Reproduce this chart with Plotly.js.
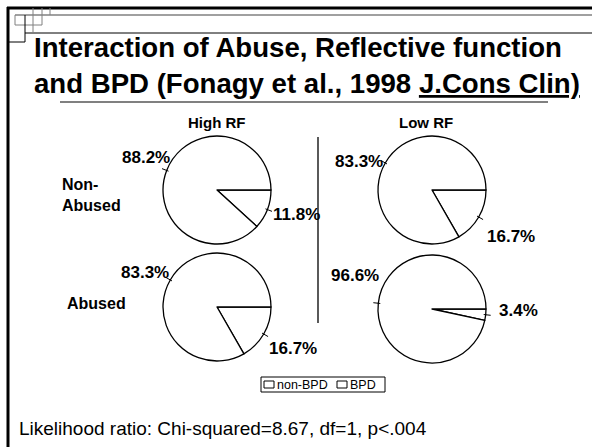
<!DOCTYPE html>
<html>
<head>
<meta charset="utf-8">
<script src="https://cdn.plot.ly/plotly-3.0.1.min.js"></script>
<style>html,body{margin:0;padding:0;background:#fff;}#chart{width:592px;height:447px;}</style>
</head>
<body>
<div id="chart"></div>
<script>
// ---- data ----
const categories = ['non-BPD', 'BPD'];
const columnLabels = ['High RF', 'Low RF'];
const rowLabels = ['Non-<br>Abused', 'Abused'];
// order: High RF/Non-Abused, Low RF/Non-Abused, High RF/Abused, Low RF/Abused
const nonBPD = [88.2, 83.3, 83.3, 96.6];
const BPD = [11.8, 16.7, 16.7, 3.4];
const footnote = 'Likelihood ratio: Chi-squared=8.67, df=1, p<.004';

// ---- layout helpers (pixel -> paper) ----
const W = 592, H = 447;
const X = px => px / W;
const Y = py => 1 - py / H;
const FONT = 'Arial, "Liberation Sans", sans-serif';

const pieCenters = [[217, 190], [432, 190], [217, 307], [432, 309]];
const R = 54;
// label placements [x, y, anchor] for non-BPD and BPD labels
const labelPos = [
  [[172, 157, 'right'], [271, 215, 'left']],
  [[385, 162, 'right'], [485, 236, 'left']],
  [[171, 272, 'right'], [267, 348, 'left']],
  [[381, 275, 'right'], [497, 310, 'left']]
];

const traces = [];
const shapes = [];
const annotations = [];

pieCenters.forEach((c, i) => {
  const [cx, cy] = c;
  // BPD slice first, starting at 3 o'clock and running clockwise
  traces.push({
    type: 'pie',
    labels: [categories[1], categories[0]],
    values: [BPD[i], nonBPD[i]],
    sort: false,
    direction: 'clockwise',
    rotation: 90,
    textinfo: 'none',
    hoverinfo: 'skip',
    showlegend: false,
    marker: {colors: ['#ffffff', '#ffffff'], line: {color: '#000000', width: 1.3}},
    domain: {x: [X(cx - R), X(cx + R)], y: [Y(cy + R), Y(cy - R)]}
  });
  // mid-angle ticks (theta measured clockwise from 3 o'clock)
  const tot = nonBPD[i] + BPD[i];
  const aB = 360 * BPD[i] / tot;
  const aN = 360 * nonBPD[i] / tot;
  const mids = [aB + aN / 2, aB / 2];
  const vals = [nonBPD[i], BPD[i]];
  mids.forEach((m, k) => {
    const t = m * Math.PI / 180;
    const r0 = R - 2, r1 = R + 5;
    shapes.push({type: 'line', xref: 'paper', yref: 'paper',
      x0: X(cx + r0 * Math.cos(t)), y0: Y(cy + r0 * Math.sin(t)),
      x1: X(cx + r1 * Math.cos(t)), y1: Y(cy + r1 * Math.sin(t)),
      line: {color: '#000', width: 1}});
    const lp = labelPos[i][k];
    annotations.push({xref: 'paper', yref: 'paper', x: X(lp[0]), y: Y(lp[1]),
      xanchor: lp[2], yanchor: 'middle', showarrow: false,
      text: '<b>' + vals[k].toFixed(1) + '%</b>',
      font: {family: FONT, size: 17, color: '#000'}});
  });
});

// column headers
annotations.push({xref: 'paper', yref: 'paper', x: X(217), y: Y(123), xanchor: 'center', yanchor: 'middle',
  showarrow: false, text: '<b>' + columnLabels[0] + '</b>', font: {family: FONT, size: 15, color: '#000'}});
annotations.push({xref: 'paper', yref: 'paper', x: X(426), y: Y(123), xanchor: 'center', yanchor: 'middle',
  showarrow: false, text: '<b>' + columnLabels[1] + '</b>', font: {family: FONT, size: 15, color: '#000'}});
// row labels
annotations.push({xref: 'paper', yref: 'paper', x: X(60), y: Y(195), xanchor: 'left', yanchor: 'middle', align: 'left',
  showarrow: false, text: '<b>' + rowLabels[0] + '</b>', font: {family: FONT, size: 16, color: '#000'}});
annotations.push({xref: 'paper', yref: 'paper', x: X(65), y: Y(303), xanchor: 'left', yanchor: 'middle', align: 'left',
  showarrow: false, text: '<b>' + rowLabels[1] + '</b>', font: {family: FONT, size: 16, color: '#000'}});
// title
annotations.push({xref: 'paper', yref: 'paper', x: X(32), y: Y(48), xanchor: 'left', yanchor: 'middle',
  showarrow: false, text: '<b>Interaction of Abuse, Reflective function</b>', font: {family: FONT, size: 27.6, color: '#000'}});
annotations.push({xref: 'paper', yref: 'paper', x: X(32), y: Y(83), xanchor: 'left', yanchor: 'middle',
  showarrow: false, text: '<b>and BPD (Fonagy et al., 1998 <span style="text-decoration:underline">J.Cons Clin)</span></b>',
  font: {family: FONT, size: 27.6, color: '#000'}});
// footnote
annotations.push({xref: 'paper', yref: 'paper', x: X(17), y: Y(428), xanchor: 'left', yanchor: 'middle',
  showarrow: false, text: footnote, font: {family: FONT, size: 19, color: '#000'}});

// frame & decoration
const L = (x0, y0, x1, y1, color, width) => shapes.push({type: 'line', xref: 'paper', yref: 'paper',
  x0: X(x0), y0: Y(y0), x1: X(x1), y1: Y(y1), line: {color: color, width: width}});
const RECT = (x0, y0, x1, y1, line, fill) => shapes.push({type: 'rect', xref: 'paper', yref: 'paper',
  x0: X(x0), y0: Y(y0), x1: X(x1), y1: Y(y1), line: line, fillcolor: fill});
L(7, 8, 592, 8, '#000', 3);
L(8, 7, 8, 447, '#000', 3);
L(15, 15, 592, 15, '#808080', 1.5);
L(25, 33, 592, 33, '#000', 1);
L(15, 15, 15, 25, '#808080', 1);
L(15, 25, 33, 25, '#808080', 1);
L(25, 15, 25, 42, '#000', 1);
L(8, 42, 25, 42, '#000', 1);
L(33, 8, 33, 33, '#808080', 1);
L(42, 8, 42, 25, '#808080', 1);
L(33, 25, 42, 25, '#808080', 1);
L(50, 8, 50, 15, '#808080', 1);
// title underline (grey rule)
L(60, 102, 548, 102, '#808080', 2);
// divider between columns
L(318, 137, 318, 323, '#000', 1.3);

// legend box (drawn manually to match the compact original)
RECT(261, 377, 385, 392, {color: '#000', width: 1}, '#fff');
const legendItems = [[264, 276], [337, 349]];
categories.forEach((cat, k) => {
  const [sx, tx] = legendItems[k];
  RECT(sx, 381, sx + 10, 388, {color: '#000', width: 1}, '#fff');
  annotations.push({xref: 'paper', yref: 'paper', x: X(tx), y: Y(385), xanchor: 'left', yanchor: 'middle',
    showarrow: false, text: cat, font: {family: FONT, size: 12.5, color: '#000'}, borderpad: 0});
});

const layout = {
  width: W, height: H,
  margin: {l: 0, r: 0, t: 0, b: 0},
  paper_bgcolor: '#ffffff',
  showlegend: false,
  shapes: shapes,
  annotations: annotations
};

Plotly.newPlot('chart', traces, layout, {displayModeBar: false, staticPlot: true});
</script>
</body>
</html>
